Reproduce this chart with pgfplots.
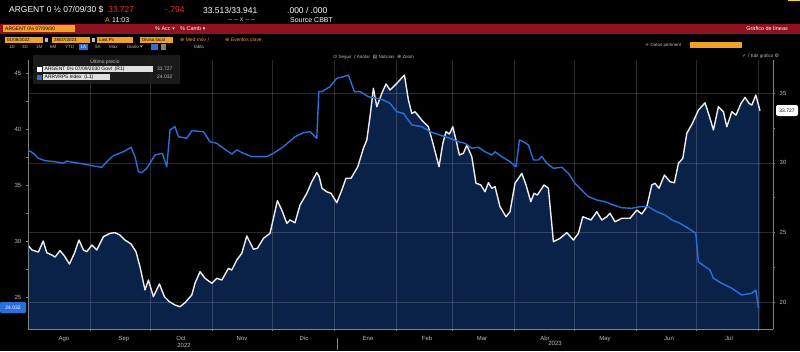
\documentclass[border=0pt]{standalone}
\usepackage{pgfplots}
\pgfplotsset{compat=1.18}
\usepackage{pgfplotstable}
\usepackage{fontspec}
\setmainfont{Liberation Sans}
\newfontfamily\symf{DejaVu Sans}
\definecolor{navyfill}{RGB}{11,34,72}
\definecolor{bblue}{RGB}{42,112,218}
\definecolor{bwhite}{RGB}{238,238,238}
\definecolor{bred}{RGB}{142,18,32}
\definecolor{borange}{RGB}{243,160,40}
\definecolor{bgray}{RGB}{190,190,190}
\definecolor{axgray}{RGB}{130,130,130}

\pgfplotstableread{
d v
0 24.10
1.9 23.75
5.2 23.60
7.6 24.39
9.4 23.55
11.9 23.39
13.5 23.24
16 23.70
18.2 23.32
20.7 22.74
23.2 23.51
25.5 24.46
27.7 23.75
29.4 23.62
31.9 24.10
34.4 23.75
37.7 24.70
41 24.94
43.5 24.99
46 24.82
48.5 24.46
51.5 24.18
54 23.62
56 22.55
58.5 20.88
60.2 21.59
62.7 20.40
65.7 21.31
68.2 20.40
70.7 20.04
73.5 19.80
76 19.68
78.5 19.97
81.9 20.52
83.5 21.36
86 22.19
88.5 21.72
91.9 21.36
94.4 21.72
96.9 21.59
100.2 22.43
101.9 22.31
104.4 23.03
106.9 23.51
109.4 24.75
112.7 23.80
114.7 23.87
117.7 24.58
121 24.94
124.7 27.28
126.9 26.61
129.4 25.66
131 25.90
133.5 25.70
136 26.97
139.4 27.81
141.9 28.64
144.4 29.30
145.5 29.05
147 28.17
149.4 27.92
151.5 27.81
154.4 27.14
156.9 28.05
159 28.89
161.5 28.89
164.9 29.72
167.7 31.04
169.4 31.63
171 33.30
172.7 35.34
174.4 34.02
176.9 34.98
179 35.65
181 35.22
184.4 35.70
188.2 36.29
190.2 34.50
191.9 33.54
193.5 33.66
196.9 33.06
200.2 32.58
202.7 31.27
205.5 29.72
207.4 31.39
209 32.23
210.7 32.06
212.4 32.58
214 31.63
215.7 30.56
217.7 30.68
219.4 31.27
221.9 30.43
224 28.53
226.4 28.41
228.5 27.92
230.2 28.57
231.9 28.17
233.5 28.29
236 26.85
239 26.13
241 26.49
243.5 28.53
246.9 29.24
249 28.41
251.4 27.21
253 27.81
254.7 27.69
258 28.41
260.2 28.17
262.7 24.34
266 24.58
269.4 24.99
272.7 24.46
275.2 24.94
277.4 26.13
279.4 26.02
281.5 25.90
284.4 26.49
286.9 25.90
289.4 26.13
291 26.38
293.5 25.77
296.9 26.02
301 26.02
304.4 26.61
306.9 26.33
309.4 26.85
311.9 28.41
313.5 28.53
315.5 28.17
318.2 29.12
321 28.64
323.2 28.57
325.2 29.96
327.4 30.32
329.4 32.11
332.2 32.83
335.2 33.78
338.5 34.30
341 33.19
342.7 32.35
345.2 34.02
347.7 33.66
349.4 32.58
351.9 33.66
354 33.42
356.5 34.26
358.5 34.69
360.5 34.26
361.9 34.14
363.9 34.86
366 33.727
}\whitedata

\pgfplotstableread{
d v
0 38.12
2.7 37.83
5.2 37.38
8.5 37.17
13.5 37.08
17.7 36.94
19.4 37.14
23.5 36.99
27.7 36.88
32.7 36.70
36.9 36.58
39.4 37.08
42.7 37.62
47.7 37.97
51.5 38.37
53.5 37.53
55.2 36.19
56.9 36.10
59.4 36.49
63.5 37.68
67.2 37.83
69.4 36.63
71 39.91
73.5 40.21
75.2 39.31
79.4 39.17
81.9 39.85
87.7 39.76
91 38.87
94.4 38.72
97.7 38.28
101.9 37.77
104.4 38.13
107.7 37.83
111.9 37.53
119.4 37.53
122.7 37.83
127.7 38.42
133.5 39.31
137.7 39.67
141 39.76
144.4 39.17
145.4 43.33
146.9 43.33
151 43.78
154.4 44.53
157.7 44.67
160.2 44.82
163.2 43.33
166 43.33
170.2 42.88
174.4 42.74
177.7 42.59
181 42.29
184.4 41.54
187.7 41.40
191.9 40.36
196.9 40.21
201 39.76
206 39.46
211 39.17
215.2 38.87
218.5 38.72
221.9 38.28
225.2 38.37
228.5 37.97
231.9 37.68
233.5 37.97
236.9 37.53
241 37.08
244 36.63
245.7 39.02
247.7 38.87
250.2 38.57
252.7 37.23
255.2 37.23
256.9 37.53
259.4 36.94
262.7 36.49
266.9 36.58
270.2 36.04
273.5 35.15
277.7 34.40
280.2 33.96
284.4 33.66
288.5 33.51
292.7 33.21
296.9 32.97
301.9 32.92
306 33.06
310.2 33.06
314.4 32.62
318.5 32.32
321.9 31.88
326 31.58
330.2 31.13
333.9 30.69
335.2 28.15
338.5 27.71
341 27.41
342.7 26.67
346.9 26.22
351.9 25.78
356.9 25.18
361.9 25.33
363.9 25.63
365.2 24.032
}\bluedata

\pgfplotsset{
  bbg/.style={
    scale only axis, width=745bp, height=269bp,
    at={(28bp,22bp)}, anchor=south west,
    xmin=0, xmax=372.5,
    /pgf/number format/assume math mode=true,
    tick style={axgray, line width=0.5bp},
    major tick length=2.2bp, minor tick length=1.6bp,
    tick align=outside,
    axis line style={axgray, line width=0.6bp},
    tick label style={font=\fontsize{6}{7}\selectfont, text=bgray},
  }
}

\begin{document}
\begin{tikzpicture}[x=1bp,y=1bp]
\path[use as bounding box] (0,0) rectangle (800,351);
\fill[black] (0,0) rectangle (800,351);

% ---------- fill under the bond price (right axis)
\begin{axis}[bbg, hide axis, ymin=18.08, ymax=37.37]
  \addplot[fill=navyfill, draw=none] table[x=d,y=v] {\whitedata} \closedcycle;
\end{axis}

% ---------- right axis, grid, bond price line
\begin{axis}[bbg, ymin=18.08, ymax=37.37,
  axis y line*=right, axis x line*=bottom,
  ytick={20,25,30,35}, minor ytick={22.5,27.5,32.5},
  ymajorgrids, major grid style={white, opacity=0.16, line width=0.5bp},
  xtick={18,48,76.5,107,138,170,199.5,227,258.5,288.5,320.5,350.5},
  xticklabels={Ago,Sep,Oct,Nov,Dic,Ene,Feb,Mar,Abr,May,Jun,Jul},
  major x tick style={draw=none},
  minor xtick={31,61,92,122,153,184,212,243,273,304,334,365},
  xminorgrids, minor grid style={white, opacity=0.16, line width=0.5bp},
  xticklabel style={yshift=-1.5bp},
  yticklabel style={xshift=1bp},
  ]
  \addplot[bwhite, line width=1.4bp, line join=round] table[x=d,y=v] {\whitedata};
\end{axis}

% ---------- left axis, index line
\begin{axis}[bbg, ymin=22.143, ymax=46.16,
  axis y line*=left, hide x axis,
  ytick={25,30,35,40,45}, minor ytick={27.5,32.5,37.5,42.5},
  yticklabel style={xshift=-1bp},
  ]
  \addplot[bblue, line width=1.4bp, line join=round] table[x=d,y=v] {\bluedata};
\end{axis}

% ---------- year labels / separator
\node[text=bgray, font=\fontsize{6}{7}\selectfont] at (184,6) {2022};
\node[text=bgray, font=\fontsize{6}{7}\selectfont] at (555,8) {2023};
\draw[axgray, line width=0.5bp] (337,1) -- (337,13);

% ---------- last value tags
\fill[bblue, rounded corners=1.2bp] (0,38) rectangle (26,49);
\node[text=white, font=\fontsize{5}{6}\selectfont] at (13,43.5) {24.032};
\fill[white, rounded corners=2bp] (776,235) rectangle (798,246);
\node[text=black, font=\fontsize{5}{6}\selectfont] at (787,240.5) {33.727};

% ---------- legend
\fill[black!88!white, opacity=0.85] (33,267) rectangle (180,296);
\node[text=bgray, font=\fontsize{5}{6}\selectfont] at (105,289) {Último precio};
\fill[white] (37,279.5) rectangle (42,284.5);
\fill[white!88!black] (43,279) rectangle (153,285);
\node[anchor=west, inner sep=1bp, text=black, font=\fontsize{5}{6}\selectfont] at (43.5,282) {ARGENT 0½ 07/09/2030 Govt\ \ (R1)};
\node[anchor=west, inner sep=0, text=bgray, font=\fontsize{5}{6}\selectfont] at (157,282) {33.727};
\fill[bblue] (37,271.5) rectangle (42,276.5);
\fill[white!88!black] (43,271) rectangle (110,277);
\node[anchor=west, inner sep=1bp, text=black, font=\fontsize{5}{6}\selectfont] at (43.5,274) {ARRVRP5 Index\ \ (L1)};
\node[anchor=west, inner sep=0, text=bgray, font=\fontsize{5}{6}\selectfont] at (157,274) {24.032};

% ---------- Bloomberg header
\begin{scope}[every node/.style={inner sep=0, anchor=west}]
\node[text=white, font=\fontsize{8.5}{9}\selectfont] at (9,341) {ARGENT 0 ½ 07/09/30 \$};
\node[text=red!85!white, font=\fontsize{8.5}{9}\selectfont] at (108,341) {33.727};
\node[text=red!85!white, font=\fontsize{8.5}{9}\selectfont] at (165,341) {-.794};
\node[text=white, font=\fontsize{8.5}{9}\selectfont] at (203,341) {33.513/33.941};
\node[text=white, font=\fontsize{8.5}{9}\selectfont] at (287,341) {.000 / .000};
\node[text=borange, font=\fontsize{7}{8}\selectfont] at (105,331) {A};
\node[text=white, font=\fontsize{7}{8}\selectfont] at (112,331) {11:03};
\node[text=bgray, font=\fontsize{7}{8}\selectfont] at (228,331) {-- -- x -- --};
\node[text=white, font=\fontsize{7}{8}\selectfont] at (290,331) {Source CBBT};
\end{scope}
\fill[bred] (0,317) rectangle (800,327);
\fill[borange] (3,318.5) rectangle (75,325.5);
\begin{scope}[every node/.style={inner sep=0, anchor=west}]
\node[text=black, font=\fontsize{5}{6}\selectfont] at (5,322) {ARGENT 0½ 07/09/30};
\node[text=white, font=\fontsize{5.5}{6}\selectfont] at (155,322) {\% Acc {\symf\tiny▾}\quad\% Camb {\symf\tiny▾}};
\node[text=white, font=\fontsize{5.5}{6}\selectfont, anchor=east] at (788,322) {Gráfico de líneas};
\end{scope}
% row 3
\fill[borange] (5,308) rectangle (43,314);
\fill[borange] (52,308) rectangle (90,314);
\fill[borange] (97,308) rectangle (133,314);
\fill[borange] (140,308) rectangle (173,314);
\fill[bgray] (44.5,309) rectangle (48,313);
\fill[bgray] (91.5,309) rectangle (95,313);
\begin{scope}[every node/.style={inner sep=0, anchor=west}]
\node[text=black, font=\fontsize{4.5}{5}\selectfont] at (7,311) {01/08/2022};
\node[text=black, font=\fontsize{4.5}{5}\selectfont] at (54,311) {28/07/2023};
\node[text=black, font=\fontsize{4.5}{5}\selectfont] at (99,311) {Last Px};
\node[text=black, font=\fontsize{4.5}{5}\selectfont] at (142,311) {Divisa local};
\node[text=borange, font=\fontsize{5}{6}\selectfont] at (180,311) {{\symf\tiny ⊕} Med móv {\symf\tiny ∕}};
\node[text=borange, font=\fontsize{5}{6}\selectfont] at (225,311) {{\symf\tiny ⊕} Eventos clave};
\end{scope}
% row 4
\fill[bblue] (79,301) rectangle (88,307);
\begin{scope}[every node/.style={inner sep=0, anchor=west, text=bgray, font=\fontsize{4.5}{5}\selectfont}]
\node at (9,304) {1D};
\node at (22,304) {3D};
\node at (36,304) {1M};
\node at (50,304) {6M};
\node at (65,304) {YTD};
\node[text=white] at (80.5,304) {1A};
\node at (95,304) {5A};
\node at (109,304) {Máx};
\node at (127,304) {Diario {\symf\tiny▾}};
\node at (193,304) {Tabla};
\node at (645,305.5) {{\symf\tiny +} Datos pertinent};
\node at (742,295) {{\symf\tiny ✓ ∕} Edit gráfico {\symf\tiny ⚙}};
\node at (333,294) {{\symf\tiny ⊙} Seguir\ \ {\symf\tiny ∕} Anotar\ \ {\symf\tiny ▤} Noticias\ \ {\symf\tiny ⊕} Zoom};
\end{scope}
\fill[bblue] (151,301) rectangle (158,307);
\fill[axgray] (161,301) rectangle (166,307);
\fill[borange] (690,303) rectangle (742,309);
\fill[yellow!80!orange] (788,349.5) rectangle (800,351);
\end{tikzpicture}
\end{document}
